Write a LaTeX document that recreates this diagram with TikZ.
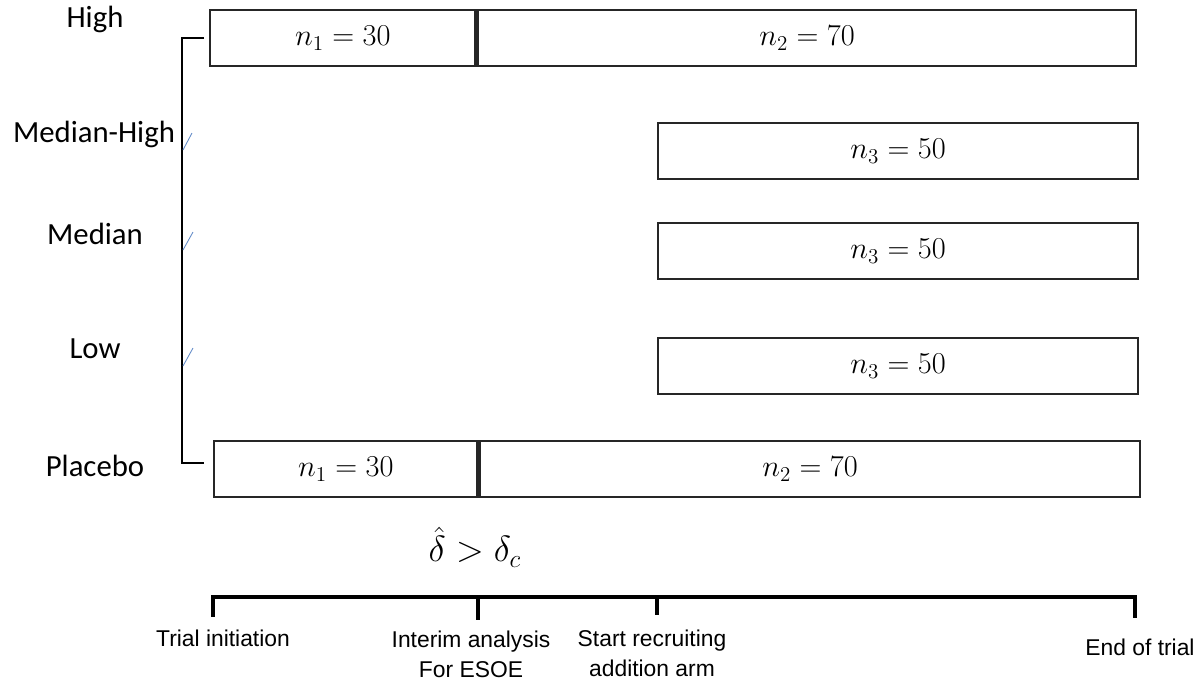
\documentclass[tikz,border=0pt]{standalone}
\usepackage{fontspec}
\setmainfont{Carlito}
\newfontfamily\arialfont{Liberation Sans}
\usetikzlibrary{positioning}
\definecolor{tickblue}{RGB}{100,140,200}
\tikzset{
armbox/.style={draw=black!85, line width=1.3pt, minimum height=1.12cm, inner sep=0pt, anchor=west, font=\fontsize{17}{20}\selectfont},
armlabel/.style={font=\fontsize{17.5}{20}\selectfont},
timelabel/.style={font=\arialfont\fontsize{13}{17}\selectfont, align=center},
timetick/.style={line width=2.2pt},
brace/.style={line width=1.1pt}
}

\begin{document}
\begin{tikzpicture}[x=0.02cm, y=-0.02cm]
\useasboundingbox (0,0) rectangle (1198,700);
% arm labels
\node[armlabel] (lhigh) at (95,19) {High};
\node[armlabel] (lmedhigh) at (94,134) {Median-High};
\node[armlabel] (lmed) at (95,234) {Median};
\node[armlabel] (llow) at (95,349) {Low};
\node[armlabel] (lplacebo) at (95,466) {Placebo};
% arms
\node[armbox, minimum width=5.31cm] (hn1) at (209,38) {$n_1=30$};
\node[armbox, minimum width=13.17cm, right=0pt of hn1] (hn2) {$n_2=70$};
\node[armbox, minimum width=9.6cm] (mhn3) at (657,151) {$n_3=50$};
\node[armbox, minimum width=9.6cm] (mn3) at (657,251) {$n_3=50$};
\node[armbox, minimum width=9.6cm] (ln3) at (657,366) {$n_3=50$};
\node[armbox, minimum width=5.27cm] (pn1) at (213,469) {$n_1=30$};
\node[armbox, minimum width=13.21cm, right=0pt of pn1] (pn2) {$n_2=70$};
% bracket
\draw[brace] ([xshift=-0.1cm]hn1.west) -- ++(-22,0) |- ([xshift=-0.18cm, yshift=0.12cm]pn1.west);
\draw[tickblue, line width=0.5pt] (183,150) -- (192,133);
\draw[tickblue, line width=0.5pt] (183,250) -- (193,232);
\draw[tickblue, line width=0.5pt] (183,366) -- (193,348);
% criterion
\node[font=\fontsize{21}{24}\selectfont] (crit) at (475,547) {$\hat{\delta} > \delta_c$};
% timeline
\coordinate (t0) at (213,597);
\coordinate (t1) at (478,597);
\coordinate (t2) at (657,597);
\coordinate (t3) at (1135,597);
\draw[timetick] ([xshift=-1pt]t0) -- ([xshift=1pt]t3);
\draw[timetick] (t0) -- ++(0,20);
\draw[timetick] (t1) -- ++(0,23);
\draw[timetick] (t2) -- ++(0,18);
\draw[timetick] (t3) -- ++(0,21);
\node[timelabel] (ltrial) at (223,638) {Trial initiation};
\node[timelabel] (linterim) at (471,654) {Interim analysis\\For ESOE};
\node[timelabel] (lstart) at (652,653) {Start recruiting\\addition arm};
\node[timelabel] (lend) at (1140,647) {End of trial};
\end{tikzpicture}
\end{document}
